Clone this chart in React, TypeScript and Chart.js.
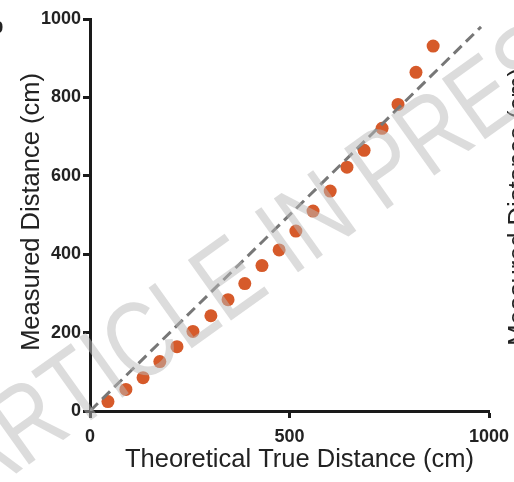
import React, { useEffect, useRef } from "react";
import { Chart, registerables } from "chart.js";

Chart.register(...registerables);

// Theoretical true distance (cm) for each measurement
const trueDistance = [45, 90, 133, 175, 218, 258, 303, 346, 388, 431, 474, 516, 559, 602, 644, 687, 732, 772, 817, 860];
// Measured distance (cm)
const measuredDistance = [24, 55, 85, 126, 164, 203, 243, 284, 325, 371, 411, 459, 510, 561, 622, 665, 721, 782, 864, 931];
// Identity (y = x) reference line end points
const identityX = [0, 980];
const identityY = [0, 980];

const xTicks = [0, 500, 1000];
const yTicks = [0, 200, 400, 600, 800, 1000];

const xTitle = "Theoretical True Distance (cm)";
const yTitle = "Measured Distance (cm)";
const watermark = "ARTICLE IN PRESS";
const panelLabel = "b";

const FONT = "'Liberation Sans', Arial, Helvetica, sans-serif";

const overlayPlugin = {
  id: "overlay",
  afterDraw(chart: any) {
    const ctx = chart.ctx as CanvasRenderingContext2D;
    const area = chart.chartArea;
    ctx.save();
    // Axis titles
    ctx.fillStyle = "#222";
    ctx.font = `25.5px ${FONT}`;
    ctx.textAlign = "center";
    ctx.textBaseline = "alphabetic";
    ctx.fillText(xTitle, (area.left + area.right) / 2 + 10, 467);
    ctx.save();
    ctx.translate(39, (area.top + area.bottom) / 2 - 3);
    ctx.rotate(-Math.PI / 2);
    ctx.fillText(yTitle, 0, 0);
    ctx.restore();
    // neighbouring panel fragment on right edge
    ctx.save();
    ctx.translate(526, (area.top + area.bottom) / 2 - 8);
    ctx.rotate(-Math.PI / 2);
    ctx.fillText(yTitle, 0, 0);
    ctx.restore();
    // panel label fragment top-left
    ctx.font = `bold 22px ${FONT}`;
    ctx.textAlign = "left";
    ctx.fillText(panelLabel, -10, 33);
    // watermark
    ctx.save();
    ctx.translate(150, 318);
    ctx.rotate((2.5 * Math.PI) / 180);
    ctx.translate(-145, -312);
    ctx.translate(291, 260);
    ctx.rotate((-38 * Math.PI) / 180);
    ctx.scale(0.8, 1);
    ctx.font = `108px ${FONT}`;
    ctx.textAlign = "center";
    ctx.fillStyle = "rgba(185,185,185,0.5)";
    ctx.fillText(watermark, 0, 0);
    ctx.restore();
    ctx.restore();
  },
};

export default function App() {
  const canvasRef = useRef<HTMLCanvasElement | null>(null);

  useEffect(() => {
    document.body.style.margin = "0";
    const canvas = canvasRef.current;
    if (!canvas) return;
    const chart = new Chart(canvas, {
      type: "scatter",
      data: {
        datasets: [
          {
            type: "line",
            label: "Identity",
            data: identityX.map((x, i) => ({ x, y: identityY[i] })),
            borderColor: "#777777",
            borderWidth: 3,
            borderDash: [11, 6],
            pointRadius: 0,
            fill: false,
          } as any,
          {
            label: "Measured",
            data: trueDistance.map((x, i) => ({ x, y: measuredDistance[i] })),
            backgroundColor: "#D65A2A",
            borderWidth: 0,
            pointRadius: 6.5,
          },
        ],
      },
      options: {
        responsive: false,
        animation: false,
        events: [],
        layout: { padding: { top: 19, right: 25, left: 0, bottom: 0 } },
        plugins: {
          legend: { display: false },
          tooltip: { enabled: false },
        },
        scales: {
          x: {
            type: "linear",
            min: 0,
            max: 1000,
            afterBuildTicks: (scale: any) => {
              scale.ticks = xTicks.map((v) => ({ value: v }));
            },
            afterFit: (scale: any) => {
              scale.height = 71;
              scale.paddingLeft = 0;
              scale.paddingRight = 0;
            },
            ticks: {
              color: "#222",
              font: { family: FONT, size: 18, weight: "bold" },
              padding: 8,
              maxRotation: 0,
              callback: (v: any) => String(v),
            },
            grid: {
              drawOnChartArea: false,
              drawTicks: true,
              tickLength: 7,
              tickWidth: 3,
              tickColor: "#1a1a1a",
            },
            border: { display: true, color: "#1a1a1a", width: 3 },
          },
          y: {
            type: "linear",
            min: 0,
            max: 1000,
            afterBuildTicks: (scale: any) => {
              scale.ticks = yTicks.map((v) => ({ value: v }));
            },
            afterFit: (scale: any) => {
              scale.width = 90;
              scale.paddingTop = 0;
              scale.paddingBottom = 0;
            },
            ticks: {
              color: "#222",
              font: { family: FONT, size: 18, weight: "bold" },
              padding: 2,
              callback: (v: any) => String(v),
            },
            grid: {
              drawOnChartArea: false,
              drawTicks: true,
              tickLength: 7,
              tickWidth: 3,
              tickColor: "#1a1a1a",
            },
            border: { display: true, color: "#1a1a1a", width: 3 },
          },
        },
      },
      plugins: [overlayPlugin],
    });
    return () => chart.destroy();
  }, []);

  return (
    <div style={{ position: "fixed", left: 0, top: 0, width: 514, height: 482, background: "#fff" }}>
      <canvas ref={canvasRef} width={514} height={482} style={{ width: 514, height: 482, display: "block" }} />
    </div>
  );
}
